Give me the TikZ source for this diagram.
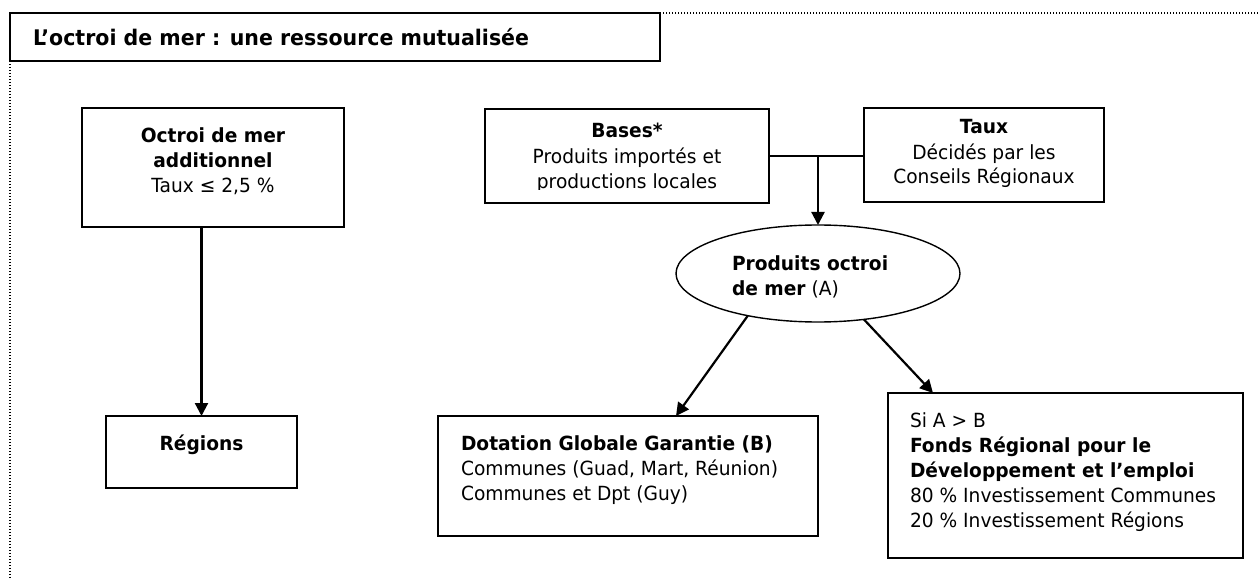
\documentclass[tikz,border=0pt]{standalone}
\usepackage{fontspec}
\setmainfont{DejaVu Sans}[FakeStretch=0.955]
\usetikzlibrary{arrows.meta,shapes.geometric}
% fixed first-line height, so that the top of a text block sits at (baseline - 16pt)
\newcommand{\fl}{\rule{0pt}{16pt}}
\begin{document}
\begin{tikzpicture}[x=1pt,y=-1pt,
  every node/.style={inner sep=0pt, outer sep=0pt, font=\fontsize{19.5}{25}\selectfont},
  box/.style={draw, line width=1.8pt, rectangle, anchor=north west},
  arr/.style={line width=2.2pt, -{Triangle[length=13pt,width=13pt]}},
  conn/.style={line width=1.8pt},
  frame/.style={line width=1.2pt, dash pattern=on 1.2pt off 1.8pt},
  ctxt/.style={anchor=north, align=center},
  ltxt/.style={anchor=north west, align=left}]
\useasboundingbox (0,0) rectangle (1258,580);

% page frame
\coordinate (frameR) at (1258,13);
\coordinate (frameC) at (10,13);
\coordinate (frameB) at (10,580);
\draw[frame] (frameR) -- (frameC) -- (frameB);

% title
\node[box, line width=2.8pt, minimum width=650pt, minimum height=48pt] (title) at (10,13) {};
\node[anchor=west, font=\fontsize{21.5}{25}\selectfont\bfseries] (titletext) at (33,37)
  {L’octroi de mer : une ressource mutualisée};

% left column
\node[box, minimum width=262pt, minimum height=119pt] (octroi) at (82,108) {};
\node[ctxt] (octroitext) at (213,127)
  {\fl\textbf{Octroi de mer}\\\textbf{additionnel}\\Taux ≤ 2,5 \%};

\node[box, line width=2pt, minimum width=191pt, minimum height=72pt] (regions) at (106,416) {};
\node[ctxt] (regionstext) at (201.5,434) {\fl\textbf{Régions}};

\draw[arr] (octroi.south -| regions.north) -- (regions.north);

% bases and rates; the last line of the bases box runs past its inner margin and is cut
\node[box, minimum width=284pt, minimum height=94pt] (bases) at (485,109) {};
\begin{scope}
  \clip (bases.north west) rectangle ([yshift=13pt]bases.south east);
  \node[ctxt] (basestext) at (627,122)
    {\fl\textbf{Bases*}\\[1pt]Produits importés et\\productions locales};
\end{scope}

\node[box, minimum width=240pt, minimum height=94pt] (taux) at (864,108) {};
\node[ctxt] (tauxtext) at (984,118)
  {\fl\textbf{Taux}\\Décidés par les\\Conseils Régionaux};

\draw[conn] (bases.east) -- (bases.east -| taux.west);

% proceeds
\node[ellipse, draw, line width=1.4pt, minimum width=284pt, minimum height=97pt] (ell) at (818,273.5) {};
\node[ltxt] (elltext) at (732,254) {\fl\textbf{Produits octroi}\\\textbf{de mer} (A)};

\draw[arr] (bases.east -| ell.north) -- (ell.north);

% distribution
\node[box, minimum width=380pt, minimum height=120pt] (dgg) at (438,416) {};
\node[ltxt] (dggtext) at (461,434)
  {\fl\textbf{Dotation Globale Garantie (B)}\\Communes (Guad, Mart, Réunion)\\Communes et Dpt (Guy)};

\node[box, minimum width=355pt, minimum height=165pt] (frde) at (888,393) {};
\node[ltxt] (frdetext) at (910,411)
  {\fl Si A > B\\\textbf{Fonds Régional pour le}\\\textbf{Développement et l’emploi}\\80 \% Investissement Communes\\20 \% Investissement Régions};

\draw[arr] (ell.211) -- ([xshift=48pt]dgg.north);
\draw[arr] (ell.315) -- ([xshift=-132.5pt]frde.north);
\end{tikzpicture}
\end{document}
